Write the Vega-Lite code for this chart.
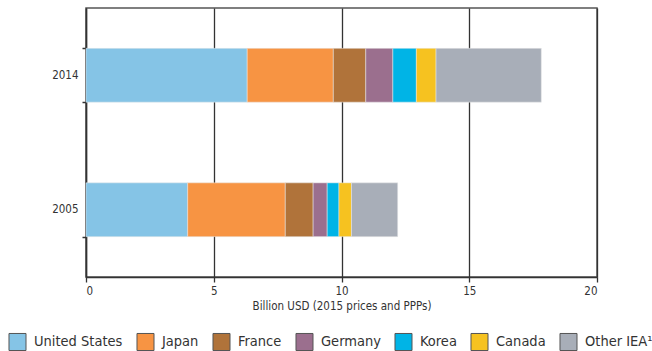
{
  "$schema": "https://vega.github.io/schema/vega-lite/v6.json",
  "autosize": "none",
  "width": 511,
  "height": 269,
  "padding": {"left": 86, "top": 8, "right": 55, "bottom": 74},
  "config": {
    "font": "DejaVu Sans Condensed, Liberation Sans, sans-serif",
    "view": {"stroke": "#555", "strokeWidth": 1.5},
    "axis": {"labelColor": "#333", "titleColor": "#333", "labelFontSize": 11.5, "titleFontSize": 11.5, "titleFontWeight": "normal", "domainColor": "#333", "tickColor": "#333"}
  },
  "data": {
    "values": [
      {"year": "2014", "country": "United States", "value": 6.31},
      {"year": "2014", "country": "Japan", "value": 3.37},
      {"year": "2014", "country": "France", "value": 1.27},
      {"year": "2014", "country": "Germany", "value": 1.06},
      {"year": "2014", "country": "Korea", "value": 0.92},
      {"year": "2014", "country": "Canada", "value": 0.77},
      {"year": "2014", "country": "Other IEA¹", "value": 4.12},
      {"year": "2005", "country": "United States", "value": 3.98},
      {"year": "2005", "country": "Japan", "value": 3.82},
      {"year": "2005", "country": "France", "value": 1.09},
      {"year": "2005", "country": "Germany", "value": 0.55},
      {"year": "2005", "country": "Korea", "value": 0.46},
      {"year": "2005", "country": "Canada", "value": 0.49},
      {"year": "2005", "country": "Other IEA¹", "value": 1.81}
    ]
  },
  "transform": [
    {"calculate": "indexof(['United States', 'Japan', 'France', 'Germany', 'Korea', 'Canada', 'Other IEA¹'], datum.country)", "as": "stackOrder"}
  ],
  "mark": {"type": "bar", "stroke": "#e8e8e8", "strokeWidth": 0.5},
  "encoding": {
    "y": {
      "field": "year", "type": "nominal", "sort": ["2014", "2005"],
      "scale": {"paddingInner": 0.6, "paddingOuter": 0.3},
      "axis": {"title": null, "tickBand": "extent", "tickSize": 4, "labelPadding": 4, "domainWidth": 1.5, "tickWidth": 1.5}
    },
    "x": {
      "field": "value", "type": "quantitative", "stack": "zero",
      "scale": {"domain": [0, 20], "nice": false},
      "axis": {"title": "Billion USD (2015 prices and PPPs)", "values": [0, 5, 10, 15, 20], "grid": true, "gridColor": "#333", "gridWidth": 1.3, "tickSize": 5, "tickWidth": 1.3, "domainWidth": 1.5, "labelPadding": 3, "titlePadding": 4}
    },
    "order": {"field": "stackOrder", "type": "quantitative", "sort": "ascending"},
    "color": {
      "field": "country", "type": "nominal",
      "sort": ["United States", "Japan", "France", "Germany", "Korea", "Canada", "Other IEA¹"],
      "scale": {
        "domain": ["United States", "Japan", "France", "Germany", "Korea", "Canada", "Other IEA¹"],
        "range": ["#85C4E6", "#F79443", "#B0733A", "#9B6F8E", "#00B4E6", "#F6C220", "#A8AEB8"]
      },
      "legend": {
        "title": null, "orient": "none", "direction": "horizontal", "legendX": -78, "legendY": 324,
        "symbolType": "square", "symbolSize": 290, "symbolStrokeColor": "#555", "symbolStrokeWidth": 1,
        "labelFontSize": 14.5, "labelColor": "#333", "labelOffset": 7, "columnPadding": 11, "labelLimit": 200
      }
    }
  }
}
